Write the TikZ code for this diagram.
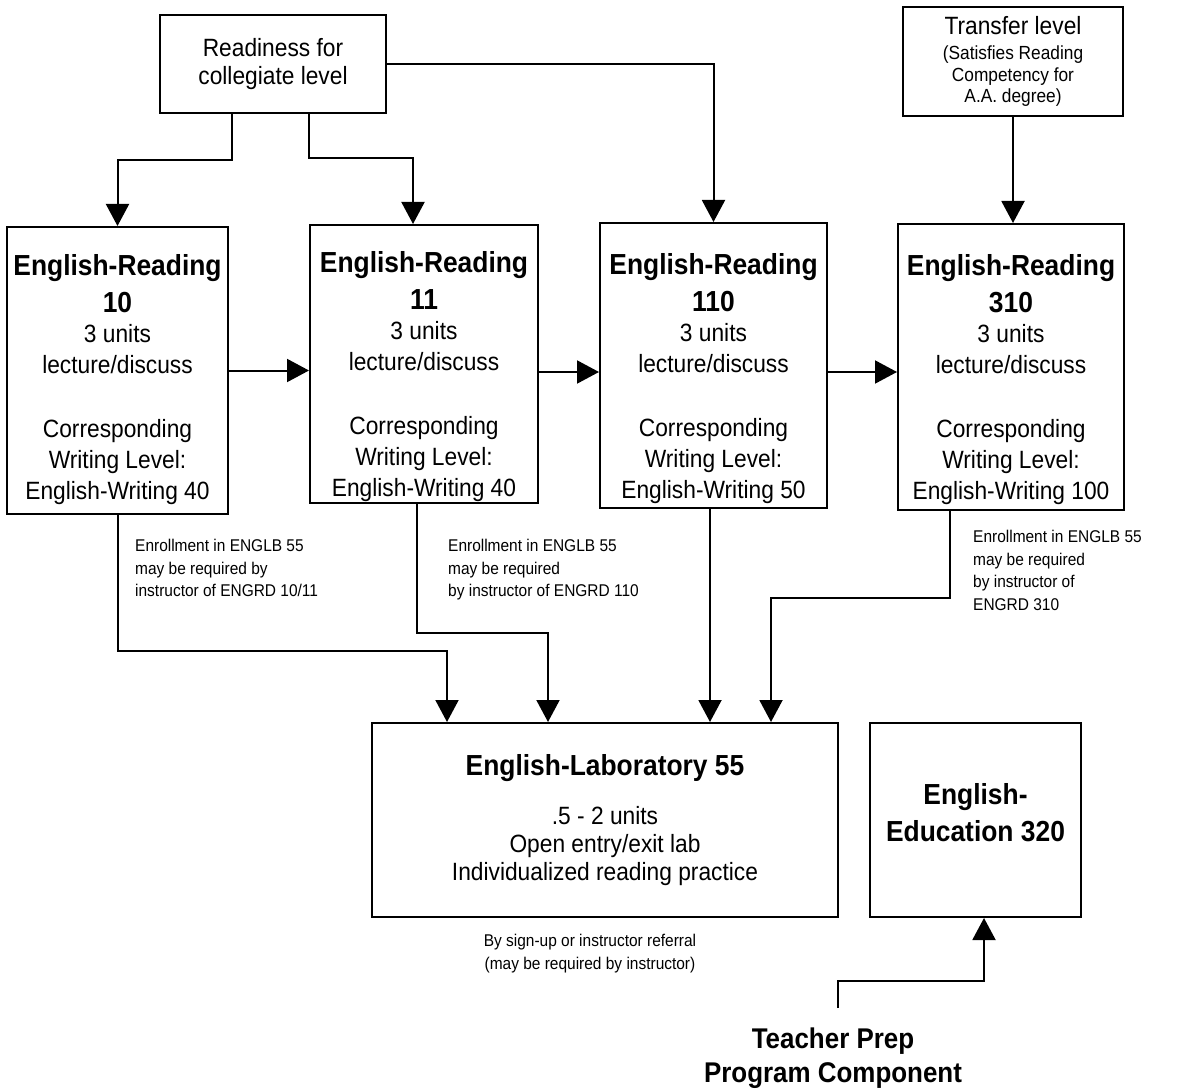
\documentclass[tikz,border=0pt]{standalone}
\usepackage{fontspec}
\setmainfont{Liberation Sans}[FakeStretch=0.91]
\usetikzlibrary{arrows.meta}
\newcommand\ttlf{\bfseries\fontsize{29}{37}\selectfont}
\tikzset{
  box/.style={draw, line width=2pt, inner sep=0pt, align=center},
  conn/.style={line width=2pt, -{Triangle[width=23pt,length=22pt]}},
  ertext/.style={align=center, inner sep=0pt, anchor=north, font=\fontsize{25}{31}\selectfont},
  note/.style={align=left, inner sep=0pt, anchor=north west, font=\fontsize{17}{22.5}\selectfont},
}
\begin{document}
\begin{tikzpicture}[x=1pt,y=-1pt]
\useasboundingbox (0,0) rectangle (1186,1091);
% top boxes
\node[box, minimum width=226pt, minimum height=98pt, font=\fontsize{25}{28}\selectfont] (ready) at (273,64) {Readiness for\\collegiate level};
\node[box, minimum width=220pt, minimum height=109pt, font=\fontsize{19}{21.5}\selectfont] (trans) at (1013,61.5) {{\fontsize{25}{28}\selectfont Transfer level}\\[4pt](Satisfies Reading\\Competency for\\A.A. degree)};
% English-Reading boxes
\node[box, minimum width=221pt, minimum height=287pt] (r10) at (117.5,370.5) {};
\node[box, minimum width=228pt, minimum height=278pt] (r11) at (424,364) {};
\node[box, minimum width=227pt, minimum height=285pt] (r110) at (713.5,365.5) {};
\node[box, minimum width=226pt, minimum height=286pt] (r310) at (1011,367) {};
\node[ertext] (t10) at (117.5,254) {{\ttlf English-Reading}\\[6pt]{\ttlf 10}\\[-1pt]3 units\\lecture/discuss\\[33pt]Corresponding\\Writing Level:\\English-Writing 40};
\node[ertext] (t11) at (424,251) {{\ttlf English-Reading}\\[6pt]{\ttlf 11}\\[-1pt]3 units\\lecture/discuss\\[33pt]Corresponding\\Writing Level:\\English-Writing 40};
\node[ertext] (t110) at (713.5,253) {{\ttlf English-Reading}\\[6pt]{\ttlf 110}\\[-1pt]3 units\\lecture/discuss\\[33pt]Corresponding\\Writing Level:\\English-Writing 50};
\node[ertext] (t310) at (1011,254) {{\ttlf English-Reading}\\[6pt]{\ttlf 310}\\[-1pt]3 units\\lecture/discuss\\[33pt]Corresponding\\Writing Level:\\English-Writing 100};
% bottom boxes
\node[box, minimum width=466pt, minimum height=194pt, font=\fontsize{25}{28}\selectfont] (lab) at (605,820) {{\bfseries\fontsize{29}{37}\selectfont English-Laboratory 55}\\[21pt].5 - 2 units\\Open entry/exit lab\\Individualized reading practice};
\node[box, minimum width=211pt, minimum height=194pt, text depth=15pt, font=\bfseries\fontsize{29}{37}\selectfont] (edu) at (975.5,820) {English-\\Education 320};
\node[align=center, inner sep=0pt, font=\bfseries\fontsize{28.5}{34}\selectfont] (prep) at (833,1058) {Teacher Prep\\Program Component};
% notes
\node[note] (n1) at (135,539) {Enrollment in ENGLB 55\\may be required by\\instructor of ENGRD 10/11};
\node[note] (n2) at (448,539) {Enrollment in ENGLB 55\\may be required\\by instructor of ENGRD 110};
\node[note] (n3) at (973,530) {Enrollment in ENGLB 55\\may be required\\by instructor of\\ENGRD 310};
\node[align=center, inner sep=0pt, anchor=north, font=\fontsize{17}{22.5}\selectfont] (sign) at (590,934) {By sign-up or instructor referral\\(may be required by instructor)};
% connectors from top
\draw[conn] (ready.south -| 232,0) -- (232,160) -| (r10.north);
\draw[conn] (ready.south -| 309,0) -- (309,158) -| (r11.north -| 413,0);
\draw[conn] (ready.east) -| (r110.north);
\draw[conn] (trans.south) -- (trans.south |- r310.north);
% horizontal chain
\draw[conn] (r10.east) -- (r10.east -| r11.west);
\draw[conn] (r11.east |- 0,372) -- (r110.west |- 0,372);
\draw[conn] (r110.east |- 0,372) -- (r310.west |- 0,372);
% to lab
\draw[conn] (r10.south -| 118,0) -- (118,651) -| (lab.north -| 447,0);
\draw[conn] (r11.south -| 417,0) -- (417,633) -| (lab.north -| 548,0);
\draw[conn] (r110.south -| 710,0) -- (lab.north -| 710,0);
\draw[conn] (r310.south -| 950,0) -- (950,598) -| (lab.north -| 771,0);
% teacher prep
\coordinate (tp) at (838,1008);
\draw[conn] (tp) |- (984,981) -- (edu.south -| 984,0);
\end{tikzpicture}
\end{document}
